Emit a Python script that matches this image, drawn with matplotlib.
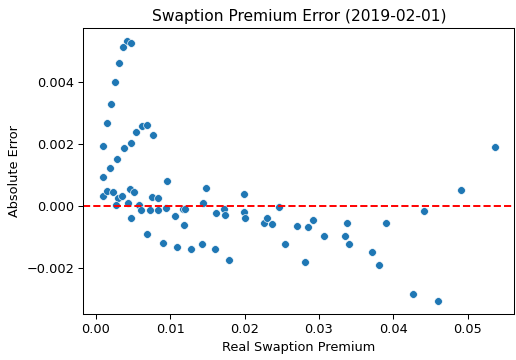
import matplotlib
matplotlib.use("Agg")
import matplotlib.pyplot as plt
import seaborn as sns
import pandas as pd

real_premium = [
    0.00413, 0.00466, 0.00359, 0.00309, 0.00259, 0.00206, 0.00148, 0.00542, 0.00618, 0.00685,
    0.00770, 0.00098, 0.00372, 0.00474, 0.00286, 0.00188, 0.00090, 0.00958, 0.00098, 0.00152,
    0.00224, 0.00296, 0.00353, 0.00265, 0.00434, 0.00461, 0.00511, 0.00574, 0.00601, 0.00726,
    0.00466, 0.00757, 0.00837, 0.00833, 0.00937, 0.01058, 0.01169, 0.01192, 0.01183, 0.00685,
    0.00901, 0.01085, 0.01273, 0.01425, 0.01483, 0.01434, 0.01609, 0.01724, 0.01734, 0.01985,
    0.01985, 0.01999, 0.02262, 0.02298, 0.02375, 0.02469, 0.02706, 0.02859, 0.02921, 0.03069,
    0.01595, 0.01784, 0.02544, 0.02809, 0.05367, 0.04915, 0.04409, 0.03374, 0.03356, 0.03410,
    0.03907, 0.03719, 0.03808, 0.04261, 0.04606,
]
abs_error = [
    0.00532, 0.00527, 0.00514, 0.00462, 0.00402, 0.00331, 0.00267, 0.00240, 0.00259, 0.00261,
    0.00230, 0.00195, 0.00186, 0.00204, 0.00150, 0.00123, 0.00093, 0.00080, 0.00031, 0.00048,
    0.00045, 0.00025, 0.00031, 0.00004, 0.00009, 0.00055, 0.00045, 0.00002, -0.00015, -0.00015,
    -0.00038, 0.00028, 0.00024, -0.00015, -0.00006, -0.00032, -0.00012, -0.00010, -0.00063, -0.00090,
    -0.00120, -0.00135, -0.00140, -0.00125, 0.00057, 0.00010, -0.00023, -0.00011, -0.00030, 0.00039,
    -0.00020, -0.00039, -0.00056, -0.00041, -0.00060, -0.00003, -0.00066, -0.00069, -0.00045, -0.00098,
    -0.00140, -0.00176, -0.00125, -0.00182, 0.00189, 0.00051, -0.00018, -0.00056, -0.00098, -0.00125,
    -0.00056, -0.00149, -0.00191, -0.00286, -0.00308,
]

title = "Swaption Premium Error (2019-02-01)"
x_label = "Real Swaption Premium"
y_label = "Absolute Error"

df = pd.DataFrame({"real": real_premium, "err": abs_error})

DPI = 93
fig = plt.figure(figsize=(516 / DPI, 360 / DPI), dpi=DPI)
ax = fig.add_axes([0.161, 0.128, 0.836, 0.793])
sns.scatterplot(data=df, x="real", y="err", ax=ax)
ax.axhline(0, color="red", linestyle="--")
ax.set_title(title)
ax.set_xlabel(x_label)
ax.set_ylabel(y_label)
fig.savefig("out.png", dpi=DPI)
